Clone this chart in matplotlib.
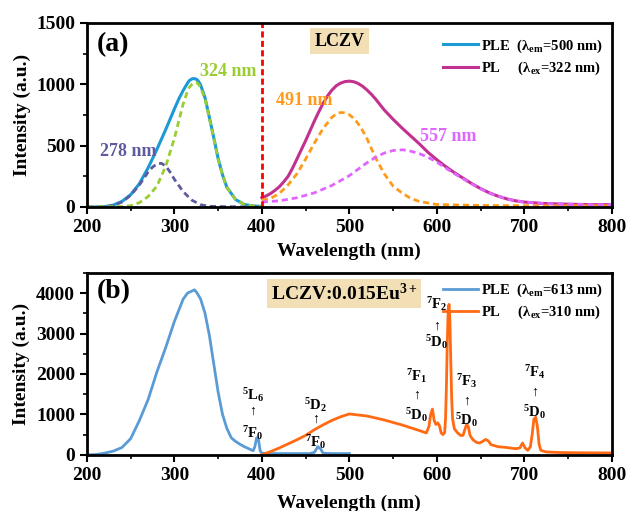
import numpy as np
import matplotlib
matplotlib.use("Agg")
import matplotlib.pyplot as plt
from matplotlib.ticker import MultipleLocator

plt.rcParams["font.family"] = ["Liberation Serif", "DejaVu Serif"]
plt.rcParams["font.weight"] = "bold"
plt.rcParams["axes.labelweight"] = "bold"
plt.rcParams["mathtext.fontset"] = "custom"
plt.rcParams["mathtext.rm"] = "Liberation Serif:bold"
plt.rcParams["mathtext.bf"] = "Liberation Serif:bold"
plt.rcParams["mathtext.it"] = "Liberation Serif:bold:italic"
plt.rcParams["lines.solid_joinstyle"] = "round"

# ---- panel (a): LCZV ----
ple_a_wl = [200, 210, 220, 230, 240, 250, 260, 270, 280, 290, 300, 305, 310, 315, 317,
            320, 322, 325, 327, 330, 335, 340, 345, 350, 355, 360, 370, 380, 390, 400]
ple_a = [0, 0, 2, 15, 45, 100, 190, 320, 470, 630, 800, 880, 950, 1010, 1030,
         1044, 1047, 1042, 1030, 995, 890, 730, 565, 395, 262, 160, 60, 20, 8, 5]

g278_wl = [200, 220, 230, 240, 250, 260, 270, 275, 280, 285, 290, 295, 300, 310, 320,
           330, 340, 360, 400]
g278 = [0, 2, 12, 40, 95, 180, 285, 325, 350, 356, 335, 285, 225, 125, 55,
        18, 5, 2, 0]

g324_wl = [200, 240, 250, 260, 270, 280, 290, 300, 310, 315, 317, 320, 322, 325, 327,
           330, 335, 340, 345, 350, 355, 360, 370, 380, 390, 400]
g324 = [0, 3, 10, 35, 85, 170, 330, 560, 840, 945, 975, 1000, 1012, 1015, 1005,
        975, 880, 720, 560, 390, 260, 159, 60, 20, 8, 5]

pl_a_wl = [400, 405, 410, 415, 420, 425, 430, 435, 440, 445, 450, 455, 460, 465, 470,
           475, 480, 485, 490, 495, 500, 505, 510, 515, 520, 525, 530, 535, 540, 550,
           560, 570, 580, 590, 600, 610, 620, 630, 640, 650, 660, 670, 680, 690, 700,
           720, 740, 760, 780, 800]
pl_a = [75, 90, 110, 135, 165, 205, 250, 315, 390, 465, 540, 620, 700, 775, 845,
        905, 952, 988, 1010, 1022, 1026, 1021, 1007, 985, 955, 920, 880, 835, 790, 715,
        645, 580, 515, 445, 385, 330, 280, 235, 190, 150, 115, 88, 66, 50, 40,
        29, 24, 21, 19, 19]

g491_wl = [400, 410, 420, 430, 440, 450, 460, 470, 480, 485, 490, 495, 500, 505, 510,
           515, 520, 530, 540, 550, 560, 570, 580, 600, 650, 700, 800]
g491 = [55, 70, 110, 180, 270, 390, 520, 640, 730, 758, 770, 768, 752, 722, 680,
        625, 560, 400, 270, 170, 115, 70, 45, 20, 12, 10, 10]

g557_wl = [400, 420, 440, 460, 480, 500, 520, 530, 540, 550, 560, 565, 570, 580, 590,
           600, 610, 620, 630, 640, 650, 660, 670, 680, 690, 700, 720, 740, 760, 780, 800]
g557 = [40, 50, 75, 115, 175, 255, 360, 405, 440, 460, 466, 463, 455, 435, 405,
        365, 318, 272, 230, 187, 148, 115, 88, 66, 50, 40, 29, 24, 21, 19, 19]

# ---- panel (b): LCZV:0.015Eu3+ ----
ple_b_wl = [200, 210, 220, 230, 240, 250, 260, 270, 280, 290, 300, 310, 315, 320, 323,
            326, 330, 335, 340, 345, 350, 355, 360, 365, 370, 375, 380, 385, 390, 392,
            394, 396, 398, 400, 410, 420, 440, 455, 460, 464, 467, 470, 480, 500]
ple_b = [0, 5, 40, 90, 180, 400, 850, 1370, 2050, 2650, 3300, 3850, 4000, 4050, 4080,
         4000, 3850, 3500, 2950, 2250, 1550, 1000, 650, 420, 330, 260, 200, 150, 100, 200,
         420, 400, 100, 40, 30, 30, 30, 30, 60, 200, 150, 40, 30, 30]

pl_b_wl = [400, 410, 420, 430, 440, 450, 460, 470, 480, 490, 500, 520, 540, 560, 580,
           588, 591, 593, 595, 597, 599, 601, 603, 605, 607, 609, 610, 611, 612, 613,
           614, 615, 616, 617, 618, 620, 623, 627, 630, 632, 634, 636, 638, 641, 645,
           649, 653, 656, 659, 662, 670, 680, 690, 695, 698, 701, 704, 707, 709, 711,
           713, 715, 717, 719, 725, 740, 760, 800]
pl_b = [0, 80, 170, 270, 370, 480, 620, 740, 850, 940, 1010, 960, 860, 740, 600,
        540, 700, 1000, 1130, 850, 750, 790, 720, 540, 500, 550, 900, 1700, 2800, 3600,
        3720, 3300, 2300, 1400, 900, 650, 560, 480, 480, 620, 750, 700, 480, 380, 310,
        290, 340, 380, 340, 250, 200, 180, 150, 170, 290, 170, 110, 200, 500, 880,
        930, 700, 250, 110, 70, 57, 50, 45]

# transition labels: x, (upper, lower) term symbols
trans_x = [390, 461, 577, 600, 634, 712]
trans_upper = ["$^{5}$L$_{6}$", "$^{5}$D$_{2}$", "$^{7}$F$_{1}$", "$^{7}$F$_{2}$", "$^{7}$F$_{3}$", "$^{7}$F$_{4}$"]
trans_lower = ["$^{7}$F$_{0}$", "$^{7}$F$_{0}$", "$^{5}$D$_{0}$", "$^{5}$D$_{0}$", "$^{5}$D$_{0}$", "$^{5}$D$_{0}$"]
trans_y = [(1490, 1068, 547), (1242, 870, 323), (1938, 1466, 994),
           (3727, 3180, 2783), (1814, 1317, 870), (2037, 1540, 1068)]

fig = plt.figure(figsize=(6.3, 5.11), dpi=100)
ax1 = fig.add_axes([0.138, 0.595, 0.833, 0.36])
ax2 = fig.add_axes([0.138, 0.110, 0.833, 0.356])

dash = (2.2, 1.4)
ax1.plot(ple_a_wl, ple_a, color="#1c9ad6", lw=2.2, label="PLE  (λ$_{\\rm em}$=500 nm)")
ax1.plot(pl_a_wl, pl_a, color="#c2318f", lw=2.2, label="PL     (λ$_{\\rm ex}$=322 nm)")
ax1.plot(g278_wl, g278, color="#5e5b9f", lw=2, ls="--", dashes=dash)
ax1.plot(g324_wl, g324, color="#9acd32", lw=2, ls="--", dashes=dash)
ax1.plot(g491_wl, g491, color="#ff9a1a", lw=2, ls="--", dashes=dash)
ax1.plot(g557_wl, g557, color="#e066ff", lw=2, ls="--", dashes=dash)
ax1.axvline(400, color="#ff0000", lw=2, ls="--", dashes=(2.2, 1.2))

ax1.text(211, 1320, "(a)", fontsize=20, va="center", ha="left")
ax1.text(362, 1108, "324 nm", color="#9acd32", fontsize=13, ha="center", va="center")
ax1.text(247, 450, "278 nm", color="#5e5b9f", fontsize=13, ha="center", va="center")
ax1.text(448, 872, "491 nm", color="#ff9a1a", fontsize=13, ha="center", va="center")
ax1.text(613, 573, "557 nm", color="#e066ff", fontsize=13, ha="center", va="center")
ax1.text(489, 1353, "LCZV", fontsize=13, ha="center", va="center",
         bbox=dict(boxstyle="square,pad=0.25", fc="#f3dfb5", ec="none"))

ax1.set_xlim(200, 800)
ax1.set_ylim(0, 1500)
ax1.xaxis.set_major_locator(MultipleLocator(100))
ax1.xaxis.set_minor_locator(MultipleLocator(50))
ax1.yaxis.set_major_locator(MultipleLocator(500))
ax1.yaxis.set_minor_locator(MultipleLocator(250))
ax1.set_xlabel("Wavelength (nm)", fontsize=14, labelpad=5)
ax1.set_ylabel("Intensity (a.u.)", fontsize=14, labelpad=4)
ax1.legend(loc="upper right", bbox_to_anchor=(1.0, 0.97), frameon=False, fontsize=10.5,
           handlelength=2.4, handletextpad=0.2, labelspacing=0.35, borderaxespad=0.2)

ax2.plot(ple_b_wl, ple_b, color="#5b9bd5", lw=2, label="PLE  (λ$_{\\rm em}$=613 nm)")
ax2.plot(pl_b_wl, pl_b, color="#ff6a13", lw=2, label="PL     (λ$_{\\rm ex}$=310 nm)")
ax2.text(211, 4025, "(b)", fontsize=20, va="center", ha="left")
ax2.text(494, 4000, "LCZV:0.015Eu$^{3+}$", fontsize=14, ha="center", va="center",
         bbox=dict(boxstyle="square,pad=0.2", fc="#f3dfb5", ec="none"))

for x, up, low, (yu, ya, yl) in zip(trans_x, trans_upper, trans_lower, trans_y):
    ax2.text(x, yu, up, fontsize=10.5, ha="center", va="center")
    ax2.text(x, ya, "↑", fontsize=10, ha="center", va="center", fontweight="normal")
    ax2.text(x, yl, low, fontsize=10.5, ha="center", va="center")

ax2.set_xlim(200, 800)
ax2.set_ylim(0, 4500)
ax2.xaxis.set_major_locator(MultipleLocator(100))
ax2.xaxis.set_minor_locator(MultipleLocator(50))
ax2.yaxis.set_major_locator(MultipleLocator(1000))
ax2.yaxis.set_minor_locator(MultipleLocator(500))
ax2.set_xlabel("Wavelength (nm)", fontsize=14, labelpad=8)
ax2.set_ylabel("Intensity (a.u.)", fontsize=14, labelpad=4)
ax2.legend(loc="upper right", bbox_to_anchor=(1.0, 1.0), frameon=False, fontsize=10.5,
           handlelength=2.4, handletextpad=0.2, labelspacing=0.35, borderaxespad=0.2)

for ax in (ax1, ax2):
    for s in ax.spines.values():
        s.set_linewidth(2)
    ax.tick_params(which="major", direction="out", length=5, width=1.5, labelsize=14)
    ax.tick_params(which="minor", direction="out", length=3, width=1.2)

fig.savefig("out.png", dpi=100)
